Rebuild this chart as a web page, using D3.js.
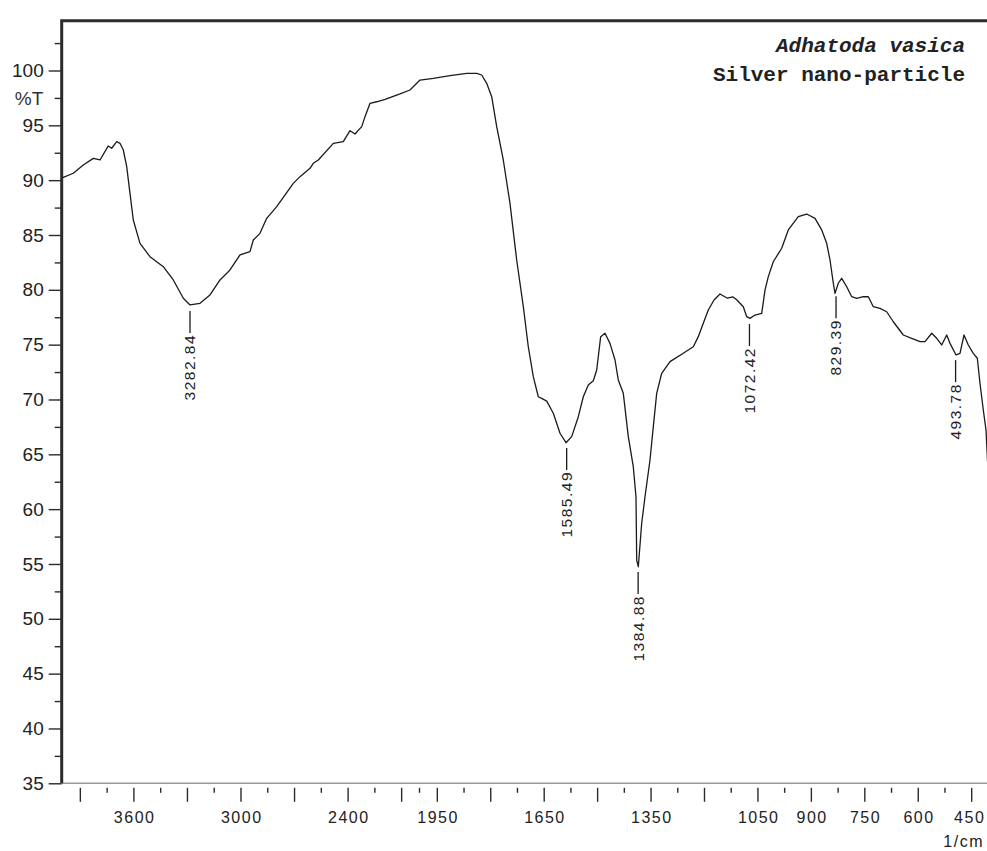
<!DOCTYPE html>
<html>
<head>
<meta charset="utf-8">
<script src="https://cdn.jsdelivr.net/npm/d3@7"></script>
<style>
	body { margin: 0; background: #fff; }
	svg { display: block; }
	.tick text { font-family: 'Liberation Sans', Arial, sans-serif; fill: #222; }
</style>
</head>
<body>
<div id="chart"></div>
<script>
// FTIR spectrum, wavenumber (1/cm) against %T
const wavenumber = [
	4000, 3992.7, 3936.7, 3880.7, 3824.6, 3787.1, 3740.6, 3721.6, 3693.6, 3675.1,
	3656.6, 3637.5, 3619.1, 3600.6, 3563, 3507, 3432.5, 3376.5, 3320.4, 3282.9,
	3226.9, 3170.9, 3114.8, 3058.8, 3002.8, 2946.8, 2928.3, 2890.8, 2853.2, 2797.2,
	2704.2, 2666.7, 2610.6, 2592.2, 2564.1, 2480.1, 2424.1, 2386.6, 2358.5, 2321,
	2302.5, 2274.5, 2237, 2190, 2106.4, 2050.4, 1997.2, 1959.9, 1913, 1866.1,
	1838, 1824, 1810, 1795.9, 1781.9, 1763.4, 1744.6, 1725.8, 1707.2, 1693.2,
	1679.2, 1665.1, 1655.6, 1641.5, 1623, 1604.2, 1587.4, 1571.4, 1552.8, 1538.8,
	1524.8, 1510.7, 1501.2, 1490, 1477.9, 1463.9, 1449.8, 1440.6, 1426.5, 1412.5,
	1398.5, 1390.9, 1388.9, 1384.4, 1374.9, 1365.6, 1351.6, 1342.3, 1332.8, 1318.7,
	1295.4, 1258.1, 1230, 1216, 1202, 1187.9, 1171.9, 1155.1, 1135.4, 1118.6,
	1107.4, 1098.9, 1089.7, 1080.1, 1070.9, 1056.8, 1038, 1028.8, 1019.5, 1005.5,
	981.9, 963.4, 935.3, 911.7, 888.4, 869.6, 855.6, 846.3, 837, 832.3,
	823, 813.5, 799.4, 785.4, 771.4, 752.8, 738.8, 724.8, 706, 687.2,
	668.6, 640.6, 617, 593.7, 579.6, 560.8, 546.8, 532.8, 518.7, 509.5,
	492.6, 481.4, 470.2, 458.1, 444.1, 432.8, 425.3, 416, 408.4, 404
]
const transmittance = [
	90.2, 90.26, 90.63, 91.38, 91.99, 91.84, 93.12, 92.91, 93.51, 93.36,
	92.75, 91.23, 88.8, 86.37, 84.24, 83.02, 82.11, 80.9, 79.23, 78.62,
	78.77, 79.53, 80.9, 81.81, 83.18, 83.48, 84.54, 85.15, 86.52, 87.58,
	89.71, 90.32, 91.08, 91.54, 91.84, 93.36, 93.51, 94.51, 94.21, 94.88,
	95.79, 97.01, 97.15, 97.36, 97.86, 98.22, 99.13, 99.29, 99.53, 99.74,
	99.74, 99.59, 98.83, 97.61, 94.88, 91.84, 87.89, 82.72, 78.46, 74.81,
	72.08, 70.25, 70.1, 69.85, 68.74, 66.92, 66.06, 66.61, 68.43, 70.25,
	71.32, 71.71, 72.69, 75.73, 76.04, 75.12, 73.6, 71.78, 70.56, 66.61,
	63.87, 61.13, 55.36, 54.75, 58.71, 61.13, 64.48, 67.52, 70.56, 72.39,
	73.45, 74.21, 74.81, 75.73, 76.95, 78.16, 79.07, 79.62, 79.25, 79.35,
	79.07, 78.77, 78.46, 77.55, 77.4, 77.7, 77.86, 79.98, 81.2, 82.56,
	83.79, 85.46, 86.67, 86.91, 86.52, 85.46, 84.24, 82.72, 80.6, 79.68,
	80.6, 81.05, 80.28, 79.37, 79.23, 79.37, 79.37, 78.46, 78.31, 78,
	77.09, 75.88, 75.58, 75.27, 75.27, 76.04, 75.58, 74.97, 75.88, 75.12,
	74.06, 74.21, 75.88, 74.97, 74.21, 73.76, 71.48, 69.04, 67.22, 64.3
]

const peaks = [3282.84, 1585.49, 1384.88, 1072.42, 829.39, 493.78]

const xMajorTicks = [3900, 3600, 3300, 3000, 2700, 2400, 2100,
	1950, 1800, 1650, 1500, 1350, 1200, 1050, 900, 750, 600, 450]
const xMinorTicks = [3750, 3450, 3150, 2850, 2550, 2250, 2000,
	1875, 1725, 1575, 1425, 1275, 1125, 975, 825, 675, 525]
const xTickLabels = [3600, 3000, 2400, 1950, 1650, 1350, 1050, 900, 750, 600, 450]

const yMajorTicks = [35, 40, 45, 50, 55, 60, 65, 70, 75, 80, 85, 90, 95, 100]
const yMinorTicks = [37.5, 42.5, 47.5, 52.5, 57.5, 62.5, 67.5, 72.5, 77.5,
	82.5, 87.5, 92.5, 97.5, 102.5]

const titleLines = ['Adhatoda vasica', 'Silver nano-particle']

const width = 987
const height = 851
const plotLeft = 61.7
const plotTop = 20.7
const plotBottom = 783.3
const inkColor = '#1a1a1a'

const spectrum = wavenumber.map((w, i) => ({ w, t: transmittance[i] }))

// the instrument doubles the scale below 2000 1/cm
const x = d3.scaleLinear()
	.domain([4000, 2000, 400])
	.range([62, 419, 989])

const y = d3.scaleLinear()
	.domain([35, 100])
	.range([plotBottom, 70.5])

const svg = d3.select('#chart')
	.append('svg')
	.attr('width', width)
	.attr('height', height)

// x axis (ticks sit a little below the base line)
svg.append('line')
	.attr('x1', plotLeft).attr('x2', width)
	.attr('y1', plotBottom).attr('y2', plotBottom)
	.attr('stroke', '#9a9a9a')
	.attr('stroke-width', 1.5)

const xMinor = svg.append('g')
	.attr('transform', `translate(0,${plotBottom + 4.5})`)
	.call(d3.axisBottom(x).tickValues(xMinorTicks).tickSize(5).tickFormat(''))

const xMajor = svg.append('g')
	.attr('transform', `translate(0,${plotBottom + 4.5})`)
	.call(d3.axisBottom(x)
		.tickValues(xMajorTicks)
		.tickSize(14)
		.tickPadding(10)
		.tickFormat(d => (xTickLabels.includes(d) ? d : '')))

xMajor.selectAll('text')
	.style('font-size', '16px')
	.style('letter-spacing', '1.5px')
	.attr('dx', d => (d === 450 ? '-2px' : '0.75px'))

// y axis
const yMinor = svg.append('g')
	.attr('transform', `translate(${plotLeft},0)`)
	.call(d3.axisLeft(y).tickValues(yMinorTicks).tickSize(7).tickFormat(''))

const yMajor = svg.append('g')
	.attr('transform', `translate(${plotLeft},0)`)
	.call(d3.axisLeft(y).tickValues(yMajorTicks).tickSize(13).tickPadding(5))

yMajor.selectAll('text')
	.style('font-size', '19px')

;[xMinor, xMajor, yMinor, yMajor].forEach(g => {
	g.select('.domain').remove()
	g.selectAll('.tick line')
		.attr('stroke', '#2a2a2a')
		.attr('stroke-width', 1.4)
})

// frame: left and top borders
svg.append('path')
	.attr('d', `M${plotLeft},${plotBottom}V${plotTop}H${width}`)
	.attr('fill', 'none')
	.attr('stroke', '#2b2b2b')
	.attr('stroke-width', 3)

svg.append('text')
	.attr('x', 29)
	.attr('y', y(97.5))
	.attr('dy', '0.35em')
	.attr('text-anchor', 'middle')
	.style('font-family', "'Liberation Sans', Arial, sans-serif")
	.style('font-size', '19px')
	.attr('fill', '#333')
	.text('%T')

svg.append('text')
	.attr('x', 984)
	.attr('y', 847)
	.attr('text-anchor', 'end')
	.style('font-family', "'Liberation Sans', Arial, sans-serif")
	.style('font-size', '16px')
	.style('letter-spacing', '1.5px')
	.attr('fill', '#222')
	.text('1/cm')

// spectrum line
const line = d3.line()
	.x(d => x(d.w))
	.y(d => y(d.t))

svg.append('path')
	.datum(spectrum)
	.attr('d', line)
	.attr('fill', 'none')
	.attr('stroke', inkColor)
	.attr('stroke-width', 1.3)
	.attr('stroke-linejoin', 'round')

// peak picks
const bisect = d3.bisector(d => -d.w).left
function valueAt(w) {
	const i = Math.max(1, Math.min(spectrum.length - 1, bisect(spectrum, -w)))
	const a = spectrum[i - 1]
	const b = spectrum[i]
	const k = (w - a.w) / (b.w - a.w)
	return a.t + k * (b.t - a.t)
}

const peakGroups = svg.append('g')
	.selectAll('g')
	.data(peaks)
	.join('g')
	.attr('transform', d => `translate(${x(d)},${y(valueAt(d)) + 6})`)

peakGroups.append('line')
	.attr('y1', 0)
	.attr('y2', 22)
	.attr('stroke', inkColor)
	.attr('stroke-width', 1.3)

peakGroups.append('text')
	.attr('transform', 'translate(0,23) rotate(-90)')
	.attr('text-anchor', 'end')
	.attr('dy', '0.35em')
	.style('font-family', "'Liberation Sans', Arial, sans-serif")
	.style('font-size', '15.5px')
	.style('letter-spacing', '1.5px')
	.attr('fill', '#222')
	.text(d => d.toFixed(2))

// sample title, top right
svg.append('g')
	.selectAll('text')
	.data(titleLines)
	.join('text')
	.attr('x', 965)
	.attr('y', (d, i) => 52 + i * 29)
	.attr('text-anchor', 'end')
	.style('font-family', "'Liberation Mono', 'Courier New', monospace")
	.style('font-size', '21px')
	.style('font-weight', 'bold')
	.style('font-style', (d, i) => (i === 0 ? 'italic' : 'normal'))
	.attr('fill', '#222')
	.text(d => d)
</script>
</body>
</html>
